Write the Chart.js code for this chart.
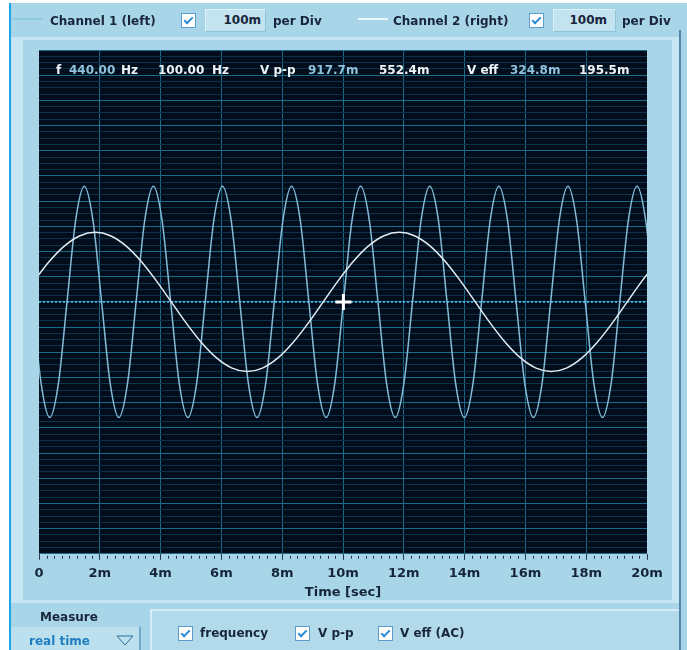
<!DOCTYPE html>
<html>
<head>
<meta charset="utf-8">
<title>Oscilloscope</title>
<script src="https://cdn.jsdelivr.net/npm/chart.js@4.4.1/dist/chart.umd.min.js"></script>
<style>
  html, body { margin: 0; padding: 0; background: #ffffff; }
  #scope { position: relative; width: 687px; height: 650px; overflow: hidden;
           font-family: "DejaVu Sans", Verdana, sans-serif; font-weight: bold; color: #18253a; }
  .blk { position: absolute; }
  #shell { left: 9px; top: 3px; right: 0; bottom: 0; background: #a8d5e8; border-left: 2px solid #1ba5e5; }
  #bezel { left: 11px; top: 37px; width: 668px; height: 566px; background: #c7e5f2; }
  #face  { left: 23px; top: 40px; width: 649px; height: 560px; background: #a8d5e8; }
  #edge  { left: 679px; top: 30px; width: 2px; height: 620px; background: #5288a6; }
  #scopeCanvas { position: absolute; left: 0; top: 0; }
  .txt { position: absolute; font-size: 12px; line-height: 14px; white-space: nowrap; }
  .swatch { position: absolute; height: 2px; }
  .cb { position: absolute; width: 13px; height: 13px; background: #ffffff; border: 1px solid #5b9ccb; }
  .cb::after { content: ""; position: absolute; left: 4px; top: 1px; width: 3px; height: 7px;
               border: solid #2a8cd4; border-width: 0 2px 2px 0; transform: rotate(45deg); }
  .valbox { position: absolute; background: #c4e3f1; box-sizing: border-box;
            border-top: 1px solid #dcf0f8; border-left: 1px solid #dcf0f8;
            border-bottom: 1px solid #93c3d9; border-right: 1px solid #93c3d9;
            font-size: 12px; line-height: 21px; text-align: right; }
  .rd { position: absolute; top: 63px; font-size: 12px; line-height: 14px; color: #eef3f6; white-space: nowrap; }
  .rd.c1 { color: #8fc3dd; }
  #measureTab { left: 11px; top: 603px; width: 137px; height: 24px; background: #a8d5e8; }
  #modeBox { left: 11px; top: 627px; width: 128px; height: 23px; background: #bde0ef; border-right: 2px solid #73a9c4; }
  #optPanel { left: 150px; top: 609px; width: 527px; height: 41px; background: #b2daeb;
              border-left: 2px solid #d6edf7; border-top: 2px solid #d6edf7; }
</style>
</head>
<body>
<div id="scope">
  <div class="blk" id="shell"></div>
  <div class="blk" id="bezel"></div>
  <div class="blk" id="face"></div>
  <div class="blk" id="edge"></div>
  <div class="blk" id="measureTab"></div>
  <div class="blk" id="modeBox"></div>
  <div class="blk" id="optPanel"></div>

  <canvas id="scopeCanvas" width="687" height="650"></canvas>

  <!-- channel header -->
  <div class="swatch" style="left:12px;top:18px;width:31px;background:#8ccbe4;"></div>
  <div class="txt" style="left:50px;top:14px;">Channel 1 (left)</div>
  <div class="cb" style="left:181px;top:13px;"></div>
  <div class="valbox" style="left:205px;top:9px;width:61px;height:23px;padding-right:4px;">100m</div>
  <div class="txt" style="left:273px;top:14px;">per Div</div>

  <div class="swatch" style="left:358px;top:18px;width:30px;background:#eaf5fa;"></div>
  <div class="txt" style="left:393px;top:14px;">Channel 2 (right)</div>
  <div class="cb" style="left:529px;top:13px;"></div>
  <div class="valbox" style="left:553px;top:9px;width:63px;height:23px;padding-right:8px;">100m</div>
  <div class="txt" style="left:622px;top:14px;">per Div</div>

  <!-- measurement readouts -->
  <div class="rd" style="left:56px;">f</div>
  <div class="rd c1" style="left:69px;">440.00</div>
  <div class="rd" style="left:121px;">Hz</div>
  <div class="rd" style="left:158px;">100.00</div>
  <div class="rd" style="left:212px;">Hz</div>
  <div class="rd" style="left:260px;">V p-p</div>
  <div class="rd c1" style="left:308px;">917.7m</div>
  <div class="rd" style="left:379px;">552.4m</div>
  <div class="rd" style="left:467px;">V eff</div>
  <div class="rd c1" style="left:510px;">324.8m</div>
  <div class="rd" style="left:579px;">195.5m</div>

  <!-- measure panel -->
  <div class="txt" style="left:40px;top:610px;">Measure</div>
  <div class="txt" style="left:29px;top:634px;color:#1f7dc0;">real time</div>
  <svg style="position:absolute;left:116px;top:635px;" width="18" height="11">
    <polygon points="1,1 17,1 9,10" fill="none" stroke="#2a6f99" stroke-width="1"/>
  </svg>
  <div class="cb" style="left:178px;top:626px;"></div>
  <div class="txt" style="left:200px;top:626px;">frequency</div>
  <div class="cb" style="left:295px;top:626px;"></div>
  <div class="txt" style="left:318px;top:626px;">V p-p</div>
  <div class="cb" style="left:378px;top:626px;"></div>
  <div class="txt" style="left:400px;top:626px;">V eff (AC)</div>
</div>

<script>
// Time base: 0 .. 20 ms, 2 ms per division, 0.25 ms minor marks
const timeMin = 0;
const timeMax = 20;
const timeMajorStep = 2;
const timeMinorStep = 0.25;
const timeTickLabels = ['0', '2m', '4m', '6m', '8m', '10m', '12m', '14m', '16m', '18m', '20m'];

// Vertical: 100 mV per division, 10 divisions each side, 25 mV minor lines
const voltMin = -1000;
const voltMax = 1000;
const voltMajorStep = 100;
const voltMinorStep = 25;

// Channel 1 (left), 440 Hz: sample times [ms] and levels [mV]
const ch1Time = [
  -0.214, 0.070,
  0.354, 0.638, 0.922, 1.206, 1.490, 1.774, 2.059, 2.343,
  2.627, 2.911, 3.195, 3.479, 3.763, 4.047, 4.331, 4.615,
  4.899, 5.184, 5.468, 5.752, 6.036, 6.320, 6.604, 6.888,
  7.172, 7.456, 7.740, 8.025, 8.309, 8.593, 8.877, 9.161,
  9.445, 9.729, 10.013, 10.297, 10.581, 10.865, 11.150, 11.434,
  11.718, 12.002, 12.286, 12.570, 12.854, 13.138, 13.422, 13.706,
  13.990, 14.275, 14.559, 14.843, 15.127, 15.411, 15.695, 15.979,
  16.263, 16.547, 16.831, 17.115, 17.400, 17.684, 17.968, 18.252,
  18.536, 18.820, 19.104, 19.388, 19.672, 19.956, 20.240
];
const ch1Level = [
  0, -324.5,
  -458.85, -324.5, 0, 324.5, 458.85, 324.5, 0, -324.5,
  -458.85, -324.5, 0, 324.5, 458.85, 324.5, 0, -324.5,
  -458.85, -324.5, 0, 324.5, 458.85, 324.5, 0, -324.5,
  -458.85, -324.5, 0, 324.5, 458.85, 324.5, 0, -324.5,
  -458.85, -324.5, 0, 324.5, 458.85, 324.5, 0, -324.5,
  -458.85, -324.5, 0, 324.5, 458.85, 324.5, 0, -324.5,
  -458.85, -324.5, 0, 324.5, 458.85, 324.5, 0, -324.5,
  -458.85, -324.5, 0, 324.5, 458.85, 324.5, 0, -324.5,
  -458.85, -324.5, 0, 324.5, 458.85, 324.5, 0
];

// Channel 2 (right), 100 Hz: sample times [ms] and levels [mV]
const ch2Time = [
  -0.15, 0.35, 0.85, 1.35, 1.85, 2.35, 2.85, 3.35, 3.85, 4.35,
  4.85, 5.35, 5.85, 6.35, 6.85, 7.35, 7.85, 8.35, 8.85, 9.35,
  9.85, 10.35, 10.85, 11.35, 11.85, 12.35, 12.85, 13.35, 13.85, 14.35,
  14.85, 15.35, 15.85, 16.35, 16.85, 17.35, 17.85, 18.35, 18.85, 19.35,
  19.85, 20.35
];
const ch2Level = [
  85.4, 162.3, 223.5, 262.7, 276.2, 262.7, 223.5, 162.3, 85.4, 0,
  -85.4, -162.3, -223.5, -262.7, -276.2, -262.7, -223.5, -162.3, -85.4, 0,
  85.4, 162.3, 223.5, 262.7, 276.2, 262.7, 223.5, 162.3, 85.4, 0,
  -85.4, -162.3, -223.5, -262.7, -276.2, -262.7, -223.5, -162.3, -85.4, 0,
  85.4, 162.3
];

// Cursor sits on a channel 1 rising zero crossing; trigger level line at 0 V
const cursorTime = [10.013];
const cursorLevel = [0];
const triggerLevel = 0;

const onStep = (v, step) => Math.abs(v / step - Math.round(v / step)) < 1e-6;
const pair = (xs, ys) => xs.map((x, i) => ({ x: x, y: ys[i] }));

const labelFont = { family: 'DejaVu Sans', size: 13, weight: 'bold', lineHeight: 1.2 };

// Dark screen behind the grid, plus short minor tick marks under the time axis
const screenPlugin = {
  id: 'screen',
  beforeDraw(chart) {
    const a = chart.chartArea, ctx = chart.ctx;
    ctx.save();
    ctx.fillStyle = '#020d1c';
    ctx.fillRect(a.left, a.top, a.right - a.left, a.bottom - a.top);
    ctx.restore();
  },
  afterDraw(chart) {
    const sx = chart.scales.x, ctx = chart.ctx, b = chart.chartArea.bottom;
    ctx.save();
    ctx.strokeStyle = '#2b3d52';
    ctx.lineWidth = 1;
    sx.ticks.forEach(t => {
      if (onStep(t.value, timeMajorStep)) return;
      const px = Math.round(sx.getPixelForValue(t.value)) + 0.5;
      ctx.beginPath();
      ctx.moveTo(px, b + 2);
      ctx.lineTo(px, b + 5);
      ctx.stroke();
    });
    ctx.restore();
  }
};

new Chart(document.getElementById('scopeCanvas'), {
  type: 'line',
  data: {
    datasets: [
      {
        label: 'Cursor',
        data: pair(cursorTime, cursorLevel),
        yAxisID: 'y',
        showLine: false,
        pointStyle: 'cross',
        pointRadius: 8,
        pointBorderWidth: 3,
        pointBorderColor: '#ffffff',
        pointBackgroundColor: '#ffffff',
        order: 0
      },
      {
        label: 'Channel 2 (right)',
        data: pair(ch2Time, ch2Level),
        yAxisID: 'y2',
        borderColor: '#e4ecf1',
        borderWidth: 1.5,
        pointRadius: 0,
        cubicInterpolationMode: 'monotone',
        order: 1
      },
      {
        label: 'Channel 1 (left)',
        data: pair(ch1Time, ch1Level),
        yAxisID: 'y',
        borderColor: '#84bbd6',
        borderWidth: 1.5,
        pointRadius: 0,
        cubicInterpolationMode: 'monotone',
        order: 2
      },
      {
        label: 'Trigger level',
        data: [{ x: timeMin, y: triggerLevel }, { x: timeMax, y: triggerLevel }],
        yAxisID: 'y',
        borderColor: '#45acd6',
        borderWidth: 2,
        borderDash: [2, 2],
        pointRadius: 0,
        order: 3
      }
    ]
  },
  options: {
    responsive: false,
    animation: false,
    events: [],
    layout: { padding: { left: 39, top: 50, right: 40, bottom: 50 } },
    plugins: { legend: { display: false }, tooltip: { enabled: false } },
    scales: {
      x: {
        type: 'linear',
        min: timeMin,
        max: timeMax,
        position: 'bottom',
        border: { display: false },
        grid: {
          lineWidth: 1,
          tickLength: 6,
          color: ctx => (onStep(ctx.tick.value, timeMajorStep) && ctx.tick.value > timeMin && ctx.tick.value < timeMax)
            ? '#1c6a8a' : 'rgba(0,0,0,0)',
          tickColor: ctx => onStep(ctx.tick.value, timeMajorStep) ? '#26384c' : 'rgba(0,0,0,0)'
        },
        ticks: {
          stepSize: timeMinorStep,
          autoSkip: false,
          maxRotation: 0,
          padding: 6,
          color: '#16263a',
          font: labelFont,
          callback: v => onStep(v, timeMajorStep) ? timeTickLabels[Math.round(v / timeMajorStep)] : ''
        },
        title: {
          display: true,
          text: 'Time [sec]',
          color: '#16263a',
          font: labelFont,
          padding: { top: -3, bottom: 0 }
        }
      },
      y: {
        type: 'linear',
        min: voltMin,
        max: voltMax,
        position: 'left',
        border: { display: false },
        grid: {
          lineWidth: 1,
          drawTicks: false,
          color: ctx => onStep(ctx.tick.value, voltMajorStep) ? '#1c6a8a' : '#0c334b'
        },
        ticks: { display: false, stepSize: voltMinorStep, autoSkip: false }
      },
      y2: {
        type: 'linear',
        min: voltMin,
        max: voltMax,
        position: 'right',
        display: false
      }
    }
  },
  plugins: [screenPlugin]
});
</script>
</body>
</html>
